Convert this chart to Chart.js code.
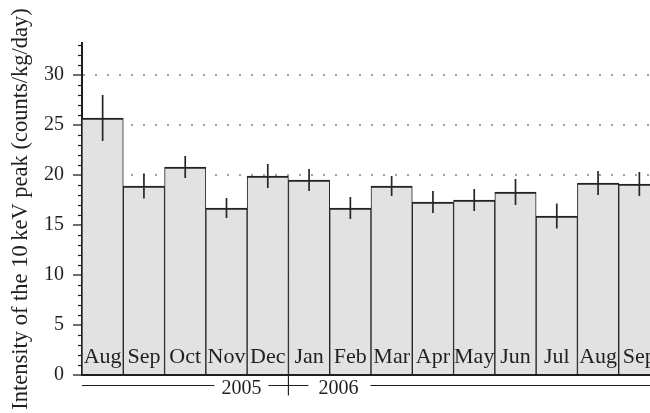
<!DOCTYPE html>
<html>
<head>
<meta charset="utf-8">
<script src="https://cdn.jsdelivr.net/npm/chart.js@4"></script>
<style>
  html, body { margin: 0; padding: 0; background: #fff; overflow: hidden; }
  #wrap { position: relative; width: 660px; height: 413px; }
</style>
</head>
<body>
<div id="wrap"><canvas id="c"></canvas></div>
<script>
// Monthly intensity of the 10 keV peak, Aug 2005 - Sep 2006
const months = ['Aug', 'Sep', 'Oct', 'Nov', 'Dec', 'Jan', 'Feb', 'Mar', 'Apr', 'May', 'Jun', 'Jul', 'Aug', 'Sep'];
const years = ['2005', '2006'];
const firstMonthOf2006 = 5; // index of 'Jan' in months
const intensity = [25.7, 18.9, 20.8, 16.7, 19.9, 19.5, 16.7, 18.9, 17.3, 17.5, 18.3, 15.9, 19.2, 19.1];
const intensityErr = [2.3, 1.25, 1.1, 1.0, 1.2, 1.1, 1.1, 1.0, 1.1, 1.1, 1.3, 1.25, 1.2, 1.2];
const yTicks = [0, 5, 10, 15, 20, 25, 30];
const yMinorStep = 1;
const yMax = 33.2;

const SERIF = "'Liberation Serif', 'DejaVu Serif', serif";
const INK = '#1f1f1f';

// vertical error bars centred on each bar
const errorBars = {
  id: 'errorBars',
  afterDatasetsDraw(chart) {
    const { ctx, scales: { y } } = chart;
    const meta = chart.getDatasetMeta(0);
    ctx.save();
    ctx.strokeStyle = '#262626';
    ctx.lineWidth = 1.7;
    meta.data.forEach((bar, i) => {
      const v = intensity[i], e = intensityErr[i];
      ctx.beginPath();
      ctx.moveTo(bar.x, y.getPixelForValue(v + e));
      ctx.lineTo(bar.x, y.getPixelForValue(v - e));
      ctx.stroke();
    });
    ctx.restore();
  }
};

// month names written inside the foot of each bar, taken from the category axis
const monthLabels = {
  id: 'monthLabels',
  afterDatasetsDraw(chart) {
    const { ctx, scales: { x }, chartArea } = chart;
    ctx.save();
    ctx.font = '22px ' + SERIF;
    ctx.fillStyle = INK;
    ctx.textAlign = 'center';
    ctx.textBaseline = 'alphabetic';
    x.ticks.forEach((t, i) => {
      ctx.fillText(x.getLabelForValue(t.value), x.getPixelForTick(i), chartArea.bottom - 12.5);
    });
    ctx.restore();
  }
};

// short minor ticks on the value axis
const minorTicks = {
  id: 'minorTicks',
  afterDraw(chart) {
    const { ctx, scales: { y }, chartArea } = chart;
    ctx.save();
    ctx.strokeStyle = INK;
    ctx.lineWidth = 1.2;
    for (let v = yMinorStep; v <= yMax; v += yMinorStep) {
      if (yTicks.includes(v)) continue;
      const py = Math.round(y.getPixelForValue(v)) + 0.5;
      ctx.beginPath();
      ctx.moveTo(chartArea.left - 4, py);
      ctx.lineTo(chartArea.left, py);
      ctx.stroke();
    }
    ctx.restore();
  }
};

// year rule under the month axis, with a cross at the turn of the year
const yearRule = {
  id: 'yearRule',
  afterDraw(chart) {
    const { ctx, scales: { x }, chartArea } = chart;
    const yLine = chartArea.bottom + 10.5;
    const xb = (x.getPixelForTick(firstMonthOf2006 - 1) + x.getPixelForTick(firstMonthOf2006)) / 2;
    ctx.save();
    ctx.font = '20px ' + SERIF;
    ctx.fillStyle = INK;
    ctx.strokeStyle = INK;
    ctx.lineWidth = 1.2;
    const w0 = ctx.measureText(years[0]).width;
    const w1 = ctx.measureText(years[1]).width;
    const t0Right = xb - 27;
    const t1Left = xb + 30;
    const seg = (a, b) => { ctx.beginPath(); ctx.moveTo(a, yLine); ctx.lineTo(b, yLine); ctx.stroke(); };
    seg(chartArea.left, t0Right - w0 - 7);
    seg(xb - 20, xb + 20);
    seg(t1Left + w1 + 12, chartArea.right);
    ctx.beginPath();
    ctx.moveTo(xb, chartArea.bottom);
    ctx.lineTo(xb, yLine + 10);
    ctx.stroke();
    ctx.textBaseline = 'alphabetic';
    ctx.textAlign = 'right';
    ctx.fillText(years[0], t0Right, yLine + 8.5);
    ctx.textAlign = 'left';
    ctx.fillText(years[1], t1Left, yLine + 8.5);
    ctx.restore();
  }
};

new Chart(document.getElementById('c'), {
  type: 'bar',
  data: {
    labels: months,
    datasets: [{
      data: intensity,
      backgroundColor: '#e2e2e2',
      borderColor: '#222',
      borderWidth: { top: 2, left: 1, right: 1, bottom: 0 },
      borderSkipped: false,
      categoryPercentage: 1,
      barPercentage: 1
    }]
  },
  options: {
    responsive: true,
    maintainAspectRatio: false,
    animation: false,
    devicePixelRatio: 1,
    layout: { padding: { top: 43, right: 0, bottom: 0, left: 0 } },
    plugins: { legend: { display: false }, tooltip: { enabled: false } },
    scales: {
      x: {
        type: 'category',
        offset: true,
        grid: { display: false, drawTicks: false },
        border: { display: true, color: INK, width: 2 },
        ticks: { display: false, autoSkip: false },
        afterFit(s) { s.height = 38; }
      },
      y: {
        min: 0,
        max: yMax,
        grid: {
          drawTicks: true,
          tickLength: 9,
          tickWidth: 1.3,
          tickColor: INK,
          lineWidth: 2,
          color: ctx => (ctx.tick && ctx.tick.value > 0) ? '#a0a0a0' : 'rgba(0,0,0,0)'
        },
        border: { display: true, color: INK, width: 2, dash: [2, 10], dashOffset: 0 },
        ticks: {
          includeBounds: false,
          padding: 9,
          color: INK,
          font: { family: SERIF, size: 20 }
        },
        afterBuildTicks(s) { s.ticks = yTicks.map(v => ({ value: v })); },
        title: {
          display: true,
          text: 'Intensity of the 10\u2009keV peak (counts/kg/day)',
          color: INK,
          font: { family: SERIF, size: 22.5 },
          padding: { top: 8, bottom: 0 }
        },
        afterFit(s) { s.width = 82; }
      }
    }
  },
  plugins: [errorBars, monthLabels, minorTicks, yearRule]
});
</script>
</body>
</html>
